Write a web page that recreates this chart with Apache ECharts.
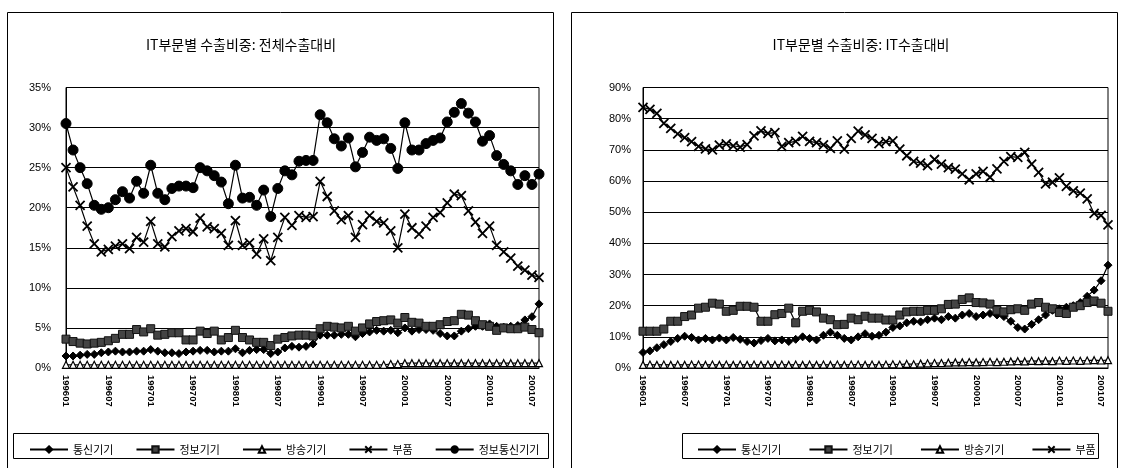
<!DOCTYPE html>
<html><head><meta charset="utf-8">
<script src="https://cdn.jsdelivr.net/npm/echarts@6/dist/echarts.min.js"></script>
<style>html,body{margin:0;padding:0;background:#fff}#c{width:1122px;height:468px}</style>
</head><body><div id="c"></div>
<script>
const months = ['199601','199602','199603','199604','199605','199606','199607','199608','199609','199610','199611','199612',
'199701','199702','199703','199704','199705','199706','199707','199708','199709','199710','199711','199712',
'199801','199802','199803','199804','199805','199806','199807','199808','199809','199810','199811','199812',
'199901','199902','199903','199904','199905','199906','199907','199908','199909','199910','199911','199912',
'200001','200002','200003','200004','200005','200006','200007','200008','200009','200010','200011','200012',
'200101','200102','200103','200104','200105','200106','200107','200108'];

const leftTitle = 'IT부문별 수출비중: 전체수출대비';
const rightTitle = 'IT부문별 수출비중: IT수출대비';
const names = ['통신기기','정보기기','방송기기','부품','정보통신기기'];

// 전체수출대비 (%)
const L_tong = [1.5,1.5,1.6,1.7,1.7,1.9,2.0,2.1,2.0,2.0, 2.1,2.1,2.3,2.1,1.9,1.9,1.8,2.0,2.1,2.2,
 2.2,2.0,2.1,2.1,2.4,1.9,2.2,2.3,2.3,1.8, 2.0,2.5,2.7,2.6,2.7,3.0,4.1,4.1,4.1,4.2,
 4.2,3.9,4.3,4.5,4.7,4.6,4.7,4.4,5.0,4.6, 4.8,4.8,4.7,4.3,4.0,4.0,4.6,4.9,5.2,5.2,
 5.5,5.2,5.1,5.2,5.3,6.0,6.4,8.0];
const L_info = [3.6,3.3,3.1,3.0,3.1,3.2,3.4,3.7,4.2,4.2, 4.8,4.5,4.9,4.1,4.2,4.4,4.4,3.5,3.5,4.6,
 4.3,4.6,3.5,3.8,4.7,3.8,3.5,3.2,3.2,2.8, 3.6,3.8,4.0,4.1,4.1,4.0,4.9,5.2,5.1,5.0,
 5.2,4.6,5.0,5.5,5.8,5.9,6.0,5.6,6.3,5.7, 5.6,5.2,5.2,5.4,5.8,5.9,6.7,6.6,5.9,5.4,
 5.2,4.7,5.0,4.9,4.9,5.1,4.8,4.4];
const L_bang = [0.4,0.4,0.4,0.4,0.4,0.4,0.4,0.4,0.4,0.4, 0.4,0.4,0.4,0.4,0.4,0.4,0.4,0.4,0.4,0.4,
 0.4,0.4,0.4,0.4,0.4,0.4,0.4,0.4,0.4,0.4, 0.4,0.4,0.4,0.4,0.4,0.4,0.4,0.4,0.4,0.4,
 0.4,0.4,0.4,0.4,0.4,0.4,0.5,0.5,0.6,0.6, 0.6,0.6,0.6,0.6,0.6,0.6,0.6,0.6,0.6,0.6,
 0.6,0.6,0.6,0.6,0.6,0.6,0.6,0.6];
const L_part = [25.0,22.6,20.3,17.7,15.5,14.5,14.8,15.2,15.5,14.9, 16.3,15.7,18.3,15.5,15.1,16.4,17.1,17.4,17.0,18.7,
 17.6,17.4,16.8,15.3,18.4,15.3,15.6,14.2,16.1,13.4, 16.3,18.8,17.8,19.0,18.8,18.9,23.3,21.4,19.6,18.5,
 19.0,16.3,17.9,19.0,18.3,18.1,17.1,15.0,19.2,17.5, 16.7,17.7,18.8,19.4,20.6,21.7,21.5,19.6,18.2,16.8,
 17.7,15.3,14.5,13.7,12.7,12.2,11.6,11.3];
const L_total = [30.5,27.2,25.0,23.0,20.3,19.8,20.0,21.0,22.0,21.2, 23.3,21.8,25.3,21.8,21.0,22.4,22.7,22.7,22.5,25.0,
 24.6,24.0,23.2,20.5,25.3,21.2,21.3,20.3,22.2,18.9, 22.4,24.6,24.1,25.8,25.9,25.9,31.6,30.6,28.6,27.7,
 28.7,25.1,26.9,28.8,28.4,28.6,27.4,24.9,30.6,27.2, 27.2,28.0,28.4,28.7,30.7,31.9,33.0,31.8,30.7,28.3,
 29.0,26.5,25.4,24.6,22.9,24.0,22.9,24.2];

// IT수출대비 (%)
const R_tong = [5.0,5.5,6.5,7.5,8.5,9.5,10.2,9.8,9.0,9.5, 9.0,9.6,9.0,9.8,9.2,8.5,8.0,8.8,9.5,8.7,
 9.0,8.5,9.2,10.0,9.5,9.0,10.5,11.5,10.5,9.5, 9.0,10.0,11.0,10.2,10.5,11.5,13.0,13.5,14.5,15.0,
 14.8,15.5,16.0,15.5,16.5,16.0,17.0,17.5,16.5,17.0, 17.5,17.0,16.5,15.0,13.0,12.5,14.0,15.5,17.0,18.5,
 19.0,19.5,20.0,21.0,23.0,25.0,28.0,33.0];
const R_info = [11.8,11.8,11.8,12.5,15.0,15.0,16.5,17.0,19.2,19.5, 20.8,20.5,18.2,18.5,19.8,19.8,19.5,15.0,15.0,17.1,
 17.5,19.2,14.5,18.2,18.5,18.0,16.0,15.5,13.9,14.0, 16.0,15.5,16.6,16.0,16.0,15.4,15.4,17.0,18.0,18.2,
 18.2,18.5,18.5,19.0,20.4,20.5,22.0,22.5,21.0,20.9, 20.5,18.5,18.0,18.7,19.0,18.5,20.5,21.0,19.5,19.0,
 17.8,17.5,19.5,20.0,21.0,21.5,20.8,18.2];
const R_bang = [1.0,1.1,1.0,1.1,1.0,1.1,1.0,1.1,1.1,1.0, 1.1,1.0,1.1,1.0,1.1,1.0,1.1,1.0,1.1,1.0,
 1.1,1.0,1.1,1.0,1.1,1.0,1.1,1.0,1.1,1.0, 1.1,1.1,1.0,1.1,1.0,1.1,1.2,1.1,1.3,1.2,
 1.4,1.5,1.6,1.6,1.7,1.8,1.8,1.9,1.8,1.9, 2.0,1.9,2.0,2.1,2.2,2.1,2.3,2.2,2.3,2.2,
 2.4,2.3,2.4,2.3,2.4,2.5,2.4,2.5];
const R_part = [83.6,83.0,81.7,78.5,76.9,75.1,73.9,72.6,71.1,70.3, 70.0,71.5,71.9,71.3,70.9,71.7,74.5,76.1,75.3,75.5,
 71.1,72.3,72.7,74.3,72.7,72.3,71.6,70.5,72.9,70.2, 73.7,76.0,74.8,73.7,72.0,72.6,72.9,70.2,68.1,66.3,
 65.7,64.9,66.9,65.4,64.3,63.8,62.3,60.4,62.3,63.1, 61.2,63.9,66.3,67.8,67.6,69.2,65.4,62.8,59.1,59.6,
 61.0,58.3,56.8,56.1,54.3,49.6,49.0,45.9];

const leftTicks = {min:0, max:35, interval:5};
const rightTicks = {min:0, max:90, interval:10};

const FONT = '"Liberation Sans", Arial, sans-serif';
const KFONT = '"Noto Sans CJK KR", sans-serif';
const crossPath = 'path://M0,0L10,10M10,0L0,10';

const styles = [
  {symbol:'diamond', symbolSize:8, item:{color:'#000', borderColor:'#000', borderWidth:1}},
  {symbol:'rect', symbolSize:8, item:{color:'#444', borderColor:'#111', borderWidth:1}},
  {symbol:'triangle', symbolSize:7, item:{color:'#fff', borderColor:'#000', borderWidth:1.2}},
  {symbol:crossPath, symbolSize:9, item:{color:'#000', borderColor:'#000', borderWidth:1.8}},
  {symbol:'circle', symbolSize:10, item:{color:'#000', borderColor:'#000', borderWidth:1}}
];

function mk(name, idx, data, axisIdx){
  const s = styles[idx];
  return {type:'line', name:name, xAxisIndex:axisIdx, yAxisIndex:axisIdx, data:data,
    symbol:s.symbol, symbolSize:s.symbolSize, showSymbol:true, showAllSymbol:true, animation:false,
    lineStyle:{color:'#000', width:1.2}, itemStyle:s.item, emphasis:{disabled:true}};
}

function xAxis(gi){
  return {type:'category', gridIndex:gi, data:months, boundaryGap:false,
    axisLine:{lineStyle:{color:'#000', width:1}}, axisTick:{show:false},
    axisLabel:{interval:5, rotate:-90, fontSize:9.5, fontFamily:FONT, color:'#000', margin:7, fontWeight:'bold'}};
}
function yAxis(gi, t, m){
  return {type:'value', gridIndex:gi, min:t.min, max:t.max, interval:t.interval,
    axisLine:{show:true, lineStyle:{color:'#000', width:1}}, axisTick:{show:false},
    splitLine:{lineStyle:{color:'#000', width:1}},
    axisLabel:{formatter:'{value}%', fontSize:11, fontFamily:FONT, color:'#000', margin:m}};
}

const option = {
  backgroundColor:'#fff',
  animation:false,
  title:[
    {text:leftTitle, left:236, top:33, textAlign:'center', textStyle:{fontFamily:KFONT, fontSize:14, fontWeight:'normal', color:'#000'}},
    {text:rightTitle, left:856, top:33, textAlign:'center', textStyle:{fontFamily:KFONT, fontSize:14, fontWeight:'normal', color:'#000'}}
  ],
  grid:[
    {left:66, top:87.5, width:473, height:280.5, show:true, borderColor:'#000', borderWidth:1, backgroundColor:'#fff'},
    {left:643, top:87.5, width:465, height:280.5, show:true, borderColor:'#000', borderWidth:1, backgroundColor:'#fff'}
  ],
  xAxis:[xAxis(0), xAxis(1)],
  yAxis:[yAxis(0, leftTicks, 15), yAxis(1, rightTicks, 12)],
  legend:[
    {data:names, left:24, top:439, itemWidth:38, itemHeight:8, itemGap:22,
      textStyle:{fontFamily:KFONT, fontSize:11, color:'#000'}, selectedMode:false},
    {data:names.slice(0,4), left:692, top:439, itemWidth:38, itemHeight:8, itemGap:27,
      textStyle:{fontFamily:KFONT, fontSize:11, color:'#000'}, selectedMode:false}
  ],
  graphic:[
    {type:'rect', shape:{x:7.5, y:12.5, width:546, height:470}, style:{fill:'none', stroke:'#000', lineWidth:1}, silent:true, z:-10},
    {type:'rect', shape:{x:571.5, y:12.5, width:546, height:470}, style:{fill:'none', stroke:'#000', lineWidth:1}, silent:true, z:-10},
    {type:'rect', shape:{x:13.5, y:433.5, width:535, height:25}, style:{fill:'none', stroke:'#000', lineWidth:1}, silent:true},
    {type:'rect', shape:{x:682.5, y:433.5, width:416, height:25}, style:{fill:'none', stroke:'#000', lineWidth:1}, silent:true}
  ],
  series:[
    mk(names[0],0,L_tong,0), mk(names[1],1,L_info,0), mk(names[2],2,L_bang,0), mk(names[3],3,L_part,0), mk(names[4],4,L_total,0),
    mk(names[0],0,R_tong,1), mk(names[1],1,R_info,1), mk(names[2],2,R_bang,1), mk(names[3],3,R_part,1)
  ]
};
const chart = echarts.init(document.getElementById('c'));
chart.setOption(option);
</script></body></html>
